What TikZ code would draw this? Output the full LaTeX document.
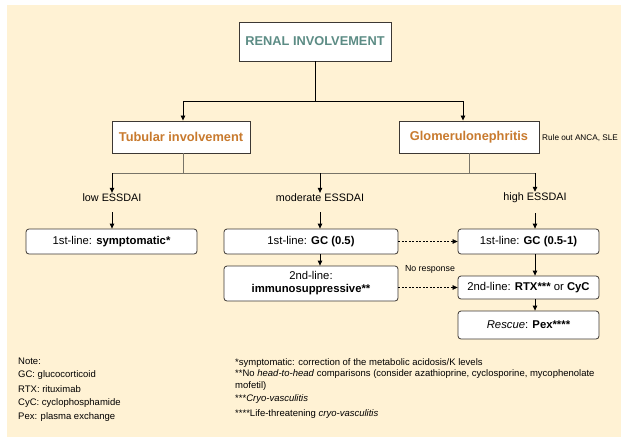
\documentclass[tikz,border=0pt]{standalone}
\usepackage{fontspec}
\setmainfont{Liberation Sans}
\usetikzlibrary{arrows.meta}
\definecolor{cream}{RGB}{255,242,212}
\definecolor{titleteal}{RGB}{92,140,133}
\definecolor{tuborange}{RGB}{200,122,46}
\definecolor{boxline}{RGB}{60,56,52}
\definecolor{busgray}{RGB}{120,116,104}

\begin{document}
\begin{tikzpicture}[x=1pt,y=1pt,yscale=-1,xscale=1,
  topbox/.style={draw=boxline,fill=white,line width=0.9pt,inner sep=0pt,font=\fontsize{12.8}{15}\selectfont\bfseries},
  stepbox/.style={draw=boxline,fill=white,line width=0.8pt,rounded corners=3pt,inner sep=0pt,align=center,font=\fontsize{11.3}{13}\selectfont},
  plain/.style={inner sep=1pt,font=\fontsize{10.8}{12}\selectfont},
  tiny/.style={inner sep=0pt,font=\fontsize{8.8}{10}\selectfont},
  notes/.style={inner sep=0pt,anchor=west,font=\fontsize{9.5}{11}\selectfont},
  arr/.style={-{Triangle[length=5pt,width=4.5pt]},line width=0.8pt},
  dasharr/.style={arr,dashed,dash pattern=on 2pt off 1.5pt,line width=0.6pt},
  busline/.style={draw=busgray,line width=1pt}]
\useasboundingbox (0,0) rectangle (621,437);
\fill[cream] (7,5) rectangle (621,437);

% Text Node
\node[topbox,text=titleteal,minimum width=152,minimum height=39] (renal) at (315,41.5) {RENAL INVOLVEMENT};
% Text Node
\node[topbox,text=tuborange,minimum width=138,minimum height=32] (tubular) at (181,137) {Tubular involvement};
% Text Node
\node[topbox,text=tuborange,minimum width=140,minimum height=32] (glomerulo) at (469,137) {Glomerulonephritis};
% Text Node
\node[tiny,anchor=west,font=\fontsize{8.2}{10}\selectfont] (ruleout) at (542,138) {Rule out ANCA, SLE};

% Text Node
\node[plain] (low) at (112,198) {low ESSDAI};
\node[plain] (moderate) at (320,198) {moderate ESSDAI};
\node[plain] (high) at (535,198) {high ESSDAI};

% Text Node
\node[stepbox,minimum width=171,minimum height=25] (symptomatic) at (111.5,241.5) {1st-line: \textbf{symptomatic*}};
\node[stepbox,minimum width=174,minimum height=25] (gclow) at (311,241.5) {1st-line: \textbf{GC (0.5)}};
\node[stepbox,minimum width=141,minimum height=25] (gchigh) at (528.5,241.5) {1st-line: \textbf{GC (0.5-1)}};
\node[stepbox,minimum width=174,minimum height=35] (immuno) at (311,283.5) {2nd-line:\\\textbf{immunosuppressive**}};
\node[stepbox,minimum width=141,minimum height=23] (rtxcyc) at (528.5,287.5) {2nd-line: \textbf{RTX***} or \textbf{CyC}};
\node[stepbox,minimum width=141,minimum height=28] (rescue) at (528.5,325) {\textit{Rescue}: \textbf{Pex****}};
% Text Node
\node[tiny] (noresp) at (430,269) {No response};

%Straight Lines
\coordinate (split) at (315,101);
\draw[line width=0.9pt] (renal.south) -- (split);
\draw[arr] (split) -| ([xshift=2pt]tubular.north);
\draw[arr] (split) -| ([xshift=-6pt]glomerulo.north);

%Straight Lines
\coordinate (busl) at (112,173);
\coordinate (busr) at (535,173);
\draw[busline] ([xshift=2pt]tubular.south) -- ([xshift=2pt]tubular.south |- busl);
\draw[busline] (glomerulo.south) -- (glomerulo.south |- busr);
\draw[busline] (busl) -- (busr);
\draw[arr] (busl) -- (low.north);
\draw[arr] (busl -| moderate) -- (moderate.north);
\draw[arr] (busr) -- (high.north);

%Straight Lines
\draw[arr,shorten <=9pt] (low.south) -- (low.south |- symptomatic.north);
\draw[arr,shorten <=9pt] (moderate.south) -- (moderate.south |- gclow.north);
\draw[arr,shorten <=9pt] (high.south) -- (high.south |- gchigh.north);
\draw[arr] (moderate.south |- gclow.south) -- (moderate.south |- immuno.north);
\draw[arr] (high.south |- gchigh.south) -- (high.south |- rtxcyc.north);
\draw[arr] (high.south |- rtxcyc.south) -- (high.south |- rescue.north);
%Dashed Lines
\draw[dasharr] (gclow.east) -- (gchigh.west);
\draw[dasharr] (immuno.east |- rtxcyc.west) -- (rtxcyc.west);

% Text Node
\node[notes] (note) at (18,361) {Note:};
\node[notes] (gc) at (18,375) {GC: glucocorticoid};
\node[notes] (rtx) at (18,389) {RTX: rituximab};
\node[notes] (cyc) at (18,403) {CyC: cyclophosphamide};
\node[notes] (pex) at (18,417) {Pex: plasma exchange};

% Text Node
\node[notes] (foot1) at (235,363) {*symptomatic: correction of the metabolic acidosis/K levels};
\node[notes] (foot2) at (235,374.5) {**No \textit{head-to-head} comparisons (consider azathioprine, cyclosporine, mycophenolate};
\node[notes] (foot2b) at (235,386) {mofetil)};
\node[notes] (foot3) at (235,399) {***\textit{Cryo-vasculitis}};
\node[notes] (foot4) at (235,414) {****Life-threatening \textit{cryo-vasculitis}};

\end{tikzpicture}
\end{document}
